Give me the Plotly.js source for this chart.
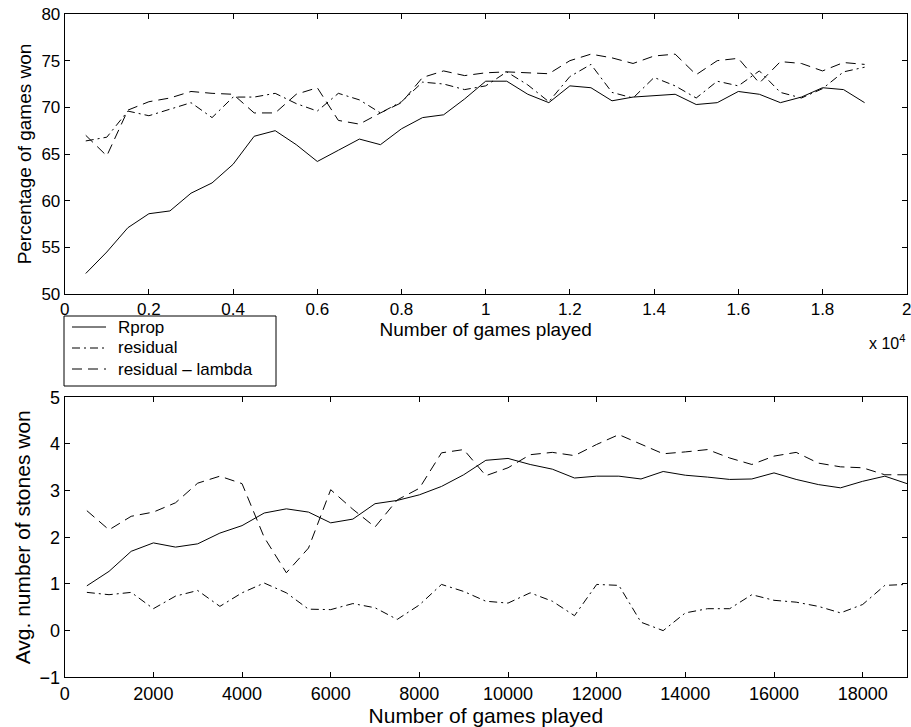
<!DOCTYPE html>
<html>
<head>
<meta charset="utf-8">
<script src="https://cdn.plot.ly/plotly-3.0.1.min.js"></script>
<style>html,body{margin:0;padding:0;background:#fff}#chart{width:911px;height:727px}</style>
</head>
<body>
<div id="chart"></div>
<script>
const games = [500,1000,1500,2000,2500,3000,3500,4000,4500,5000,5500,6000,6500,7000,7500,8000,8500,9000,9500,10000,10500,11000,11500,12000,12500,13000,13500,14000,14500,15000,15500,16000,16500,17000,17500,18000,18500,19000];

const pctRprop = [52.2,54.5,57.1,58.6,58.9,60.8,61.9,63.9,66.9,67.5,66.0,64.2,65.4,66.6,66.0,67.7,68.9,69.2,70.9,72.8,72.8,71.4,70.5,72.3,72.1,70.7,71.1,71.25,71.4,70.3,70.5,71.7,71.4,70.5,71.1,72.1,71.9,70.5];
const pctResidual = [66.4,66.8,69.6,69.1,69.8,70.5,68.9,71.1,71.1,71.5,70.4,69.6,71.5,70.8,69.4,70.6,72.7,72.5,71.9,72.3,73.8,72.4,70.6,73.3,74.6,71.6,71.0,73.2,72.3,71.0,72.8,72.3,73.9,71.6,71.0,72.0,73.8,74.3];
const pctLambda = [67.0,64.8,69.7,70.6,71.0,71.7,71.5,71.4,69.4,69.4,71.4,72.1,68.6,68.2,69.4,70.5,73.2,73.9,73.4,73.7,73.8,73.7,73.6,75.0,75.7,75.3,74.7,75.5,75.7,73.5,75.0,75.25,72.6,74.9,74.7,73.9,74.8,74.6];

const stRprop = [0.96,1.27,1.70,1.88,1.79,1.86,2.09,2.25,2.52,2.61,2.54,2.31,2.39,2.72,2.79,2.91,3.09,3.34,3.65,3.69,3.56,3.46,3.27,3.31,3.31,3.25,3.41,3.33,3.29,3.24,3.25,3.38,3.24,3.13,3.06,3.20,3.31,3.15];
const stResidual = [0.82,0.77,0.82,0.47,0.74,0.86,0.52,0.81,1.02,0.81,0.46,0.45,0.58,0.49,0.24,0.55,0.99,0.84,0.63,0.59,0.81,0.63,0.32,0.99,0.97,0.18,0.0,0.38,0.47,0.47,0.77,0.65,0.61,0.52,0.38,0.56,0.97,0.99];
const stLambda = [2.57,2.16,2.45,2.54,2.74,3.16,3.31,3.15,2.0,1.24,1.77,3.02,2.6,2.22,2.8,3.05,3.81,3.88,3.32,3.49,3.77,3.82,3.75,3.99,4.20,4.0,3.79,3.83,3.88,3.70,3.56,3.74,3.82,3.59,3.51,3.49,3.34,3.34];

const seriesNames = ['Rprop','residual','residual \u2013 lambda'];
const topTickVals = [0,2000,4000,6000,8000,10000,12000,14000,16000,18000,20000];
const topTickText = ['0','0.2','0.4','0.6','0.8','1','1.2','1.4','1.6','1.8','2'];
const botTickVals = [0,2000,4000,6000,8000,10000,12000,14000,16000,18000];
const botTickText = ['0','2000','4000','6000','8000','10000','12000','14000','16000','18000'];

const dashes = ['solid','8px,4px,2px,4px','10px,6px'];
const FONT = 'Liberation Sans, Arial, Helvetica, sans-serif';

const traces = [];
[pctRprop,pctResidual,pctLambda].forEach((y,i)=>{
  traces.push({x:games,y:y,type:'scatter',mode:'lines',name:seriesNames[i],
    line:{color:'#000',width:1,dash:dashes[i]},xaxis:'x',yaxis:'y',showlegend:false});
});
[stRprop,stResidual,stLambda].forEach((y,i)=>{
  traces.push({x:games,y:y,type:'scatter',mode:'lines',name:seriesNames[i],
    line:{color:'#000',width:1,dash:dashes[i]},xaxis:'x2',yaxis:'y2',showlegend:false});
});

const W=911,H=727;
const px = v => v/W, py = v => (H-v)/H;
const axCommon = {showline:true,linecolor:'#000',linewidth:1,mirror:'allticks',ticks:'inside',ticklen:5,tickwidth:1,tickcolor:'#000',showgrid:false,zeroline:false,ticklabeloverflow:'allow',tickfont:{family:FONT,size:17,color:'#000'}};

// legend box drawn as paper shapes + text annotations
const legRows = [327,348,369];
const shapes = [{type:'rect',xref:'paper',yref:'paper',x0:px(64),x1:px(276),y0:py(386),y1:py(316),line:{color:'#000',width:1},fillcolor:'#fff'}];
const annotations = [];
seriesNames.forEach((n,i)=>{
  shapes.push({type:'line',xref:'paper',yref:'paper',x0:px(72),x1:px(106),y0:py(legRows[i]),y1:py(legRows[i]),line:{color:'#000',width:1,dash:dashes[i]}});
  annotations.push({xref:'paper',yref:'paper',x:px(116),y:py(legRows[i]),xanchor:'left',yanchor:'middle',showarrow:false,text:n,font:{family:FONT,size:17,color:'#000'}});
});
annotations.push({xref:'paper',yref:'paper',x:px(907),y:py(330),xanchor:'right',yanchor:'top',showarrow:false,
    text:'x 10<sup>4</sup>',font:{family:FONT,size:16,color:'#000'}});

const layout = {
  width:W,height:H,
  margin:{l:0,r:0,t:0,b:0,autoexpand:false},
  paper_bgcolor:'#fff',plot_bgcolor:'#fff',
  font:{family:FONT,size:17,color:'#000'},
  showlegend:false,
  xaxis:Object.assign({},axCommon,{domain:[64.7/W,906.7/W],range:[0,20000],tickvals:topTickVals,ticktext:topTickText,anchor:'y',
    title:{text:'Number of games played',font:{family:FONT,size:19},standoff:2}}),
  yaxis:Object.assign({},axCommon,{domain:[(H-294)/H,(H-14)/H],range:[50,80],dtick:5,tick0:50,anchor:'x',
    title:{text:'Percentage of games won',font:{family:FONT,size:19},standoff:4}}),
  xaxis2:Object.assign({},axCommon,{domain:[64.7/W,907/W],range:[0,19000],tickvals:botTickVals,ticktext:botTickText,anchor:'y2',
    tickfont:{family:FONT,size:18,color:'#000'},
    title:{text:'Number of games played',font:{family:FONT,size:21},standoff:0}}),
  yaxis2:Object.assign({},axCommon,{domain:[(H-677.3)/H,(H-397.3)/H],range:[-1,5],dtick:1,tick0:-1,anchor:'x2',
    tickfont:{family:FONT,size:18,color:'#000'},
    title:{text:'Avg. number of stones won',font:{family:FONT,size:21},standoff:3}}),
  shapes:shapes,
  annotations:annotations
};

Plotly.newPlot('chart',traces,layout,{staticPlot:true,displayModeBar:false});
</script>
</body>
</html>
